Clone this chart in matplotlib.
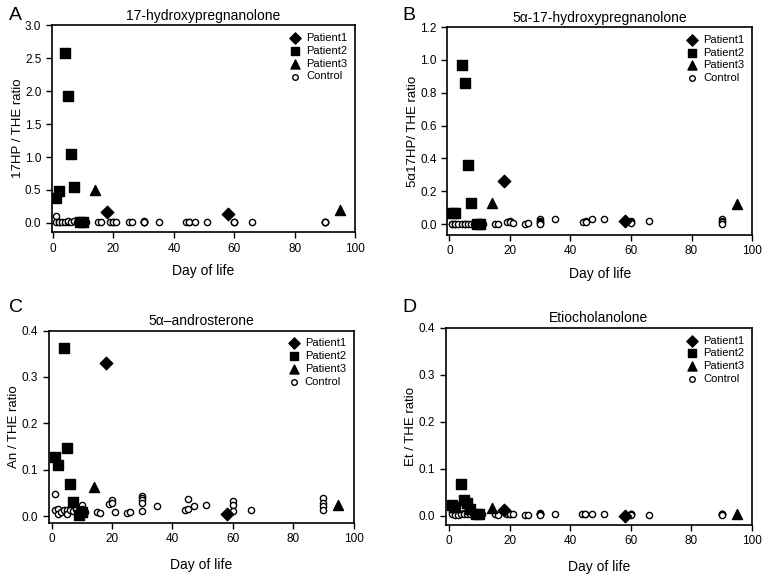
import matplotlib
matplotlib.use("Agg")
import matplotlib.pyplot as plt

plt.rcParams["font.family"] = ["Liberation Sans", "DejaVu Sans"]

# ── 資料 ────────────────────────────────────
P1_DAYS = [18, 58]
P2_DAYS = [1, 2, 4, 5, 6, 7, 9, 10]
P3_DAYS = [14, 95]
CTRL_DAYS = [1, 1, 2, 2, 3, 4, 5, 5, 6, 7, 8, 9, 10, 10, 11,
             15, 16, 19, 20, 20, 21, 25, 26,
             30, 30, 30, 30, 30, 35, 44, 45, 45, 47, 51,
             60, 60, 60, 66, 90, 90, 90, 90]

# A: 17-hydroxypregnanolone
A_P1 = [0.16, 0.14]
A_P2 = [0.38, 0.48, 2.58, 1.92, 1.04, 0.54, 0.02, 0.02]
A_P3 = [0.50, 0.20]
A_CTRL = [0.10, 0.02, 0.02, 0.01, 0.02, 0.02, 0.02, 0.03, 0.02, 0.03, 0.02, 0.02, 0.03, 0.02, 0.02,
          0.02, 0.02, 0.02, 0.02, 0.02, 0.02, 0.02, 0.02,
          0.02, 0.03, 0.02, 0.02, 0.01, 0.01, 0.02, 0.02, 0.01, 0.01, 0.01,
          0.01, 0.01, 0.01, 0.01, 0.02, 0.02, 0.01, 0.01]

# B: 5α-17-hydroxypregnanolone
B_P1 = [0.26, 0.02]
B_P2 = [0.07, 0.07, 0.97, 0.86, 0.36, 0.13, 0.00, 0.00]
B_P3 = [0.13, 0.12]
B_CTRL = [0.00, 0.00, 0.00, 0.00, 0.00, 0.00, 0.00, 0.00, 0.00, 0.00, 0.00, 0.00, 0.00, 0.01, 0.00,
          0.00, 0.00, 0.015, 0.02, 0.01, 0.005, 0.00, 0.005,
          0.03, 0.02, 0.01, 0.005, 0.00, 0.03, 0.01, 0.02, 0.01, 0.03, 0.03,
          0.02, 0.01, 0.005, 0.02, 0.03, 0.02, 0.01, 0.00]

# C: 5α-androsterone
C_P1 = [0.330, 0.005]
C_P2 = [0.127, 0.110, 0.362, 0.147, 0.069, 0.031, 0.003, 0.008]
C_P3 = [0.062, 0.023]
C_CTRL = [0.047, 0.012, 0.016, 0.005, 0.009, 0.012, 0.013, 0.005, 0.014, 0.010, 0.015, 0.012, 0.023, 0.016, 0.008,
          0.008, 0.007, 0.025, 0.034, 0.029, 0.008, 0.006, 0.009,
          0.044, 0.039, 0.034, 0.028, 0.011, 0.022, 0.014, 0.037, 0.015, 0.021, 0.023,
          0.033, 0.023, 0.011, 0.013, 0.039, 0.028, 0.022, 0.012]

# D: Etiocholanolone
D_P1 = [0.012, 0.000]
D_P2 = [0.022, 0.018, 0.068, 0.033, 0.027, 0.015, 0.004, 0.004]
D_P3 = [0.017, 0.004]
D_CTRL = [0.008, 0.003, 0.003, 0.002, 0.002, 0.003, 0.005, 0.003, 0.004, 0.003, 0.004, 0.003, 0.004, 0.003, 0.004,
          0.003, 0.002, 0.004, 0.004, 0.003, 0.004, 0.002, 0.002,
          0.007, 0.004, 0.003, 0.003, 0.002, 0.003, 0.003, 0.004, 0.003, 0.003, 0.003,
          0.004, 0.003, 0.002, 0.002, 0.004, 0.003, 0.003, 0.002]

PANELS = [
    ("A", "17-hydroxypregnanolone", "17HP / THE ratio", A_P1, A_P2, A_P3, A_CTRL,
     [0.068, 0.597, 0.398, 0.359], (-0.4, 100), (-0.14, 3.0), [0, 0.5, 1.0, 1.5, 2.0, 2.5, 3.0]),
    ("B", "5\u03b1-17-hydroxypregnanolone", "5\u03b117HP/ THE ratio", B_P1, B_P2, B_P3, B_CTRL,
     [0.587, 0.592, 0.400, 0.361], (-0.7, 100), (-0.067, 1.2), [0, 0.2, 0.4, 0.6, 0.8, 1.0, 1.2]),
    ("C", "5\u03b1\u2013androsterone", "An / THE ratio", C_P1, C_P2, C_P3, C_CTRL,
     [0.064, 0.092, 0.400, 0.334], (-1.0, 100), (-0.015, 0.4), [0, 0.1, 0.2, 0.3, 0.4]),
    ("D", "Etiocholanolone", "Et / THE ratio", D_P1, D_P2, D_P3, D_CTRL,
     [0.585, 0.089, 0.402, 0.342], (-1.1, 100), (-0.019, 0.4), [0, 0.1, 0.2, 0.3, 0.4]),
]

fig = plt.figure(figsize=(7.62, 5.76), dpi=100)

for letter, title, ylab, p1, p2, p3, ctrl, pos, xlim, ylim, yticks in PANELS:
    top_row = pos[1] > 0.5
    ax = fig.add_axes(pos)
    ax.scatter(CTRL_DAYS, ctrl, s=20, facecolors="white", edgecolors="black",
               linewidths=1.0, label="Control", zorder=2)
    ax.scatter(P1_DAYS, p1, marker="D", s=40, c="black", label="Patient1", zorder=3)
    ax.scatter(P2_DAYS, p2, marker="s", s=44, c="black", label="Patient2", zorder=3)
    ax.scatter(P3_DAYS, p3, marker="^", s=52, c="black", label="Patient3", zorder=3)

    ax.set_xlim(*xlim); ax.set_ylim(*ylim)
    ax.set_xticks([0, 20, 40, 60, 80, 100])
    ax.set_yticks(yticks)
    ax.set_yticklabels([f"{v:.1f}" for v in yticks])
    ax.tick_params(direction="out", length=4, width=1, labelsize=8.5)
    for sp in ax.spines.values():
        sp.set_linewidth(1.2)

    ax.set_title(title, fontsize=10, pad=4)
    ax.set_ylabel(ylab, fontsize=9.5, labelpad=1)
    ax.set_xlabel("Day of life", fontsize=10, labelpad=7 if top_row else 9)

    h, l = ax.get_legend_handles_labels()
    order = [1, 2, 3, 0]
    ax.legend([h[i] for i in order], [l[i] for i in order], loc="upper right",
              frameon=False, fontsize=8, handletextpad=0.4, labelspacing=0.25,
              borderaxespad=0.3, handlelength=1.2, markerscale=0.9)

    x0 = 0.012 if pos[0] < 0.5 else 0.528
    y0 = 1 - 15 / 576 if top_row else 1 - 308 / 576
    fig.text(x0, y0, letter, fontsize=14, ha="left", va="center")

plt.savefig("out.png", dpi=100)
plt.close()
